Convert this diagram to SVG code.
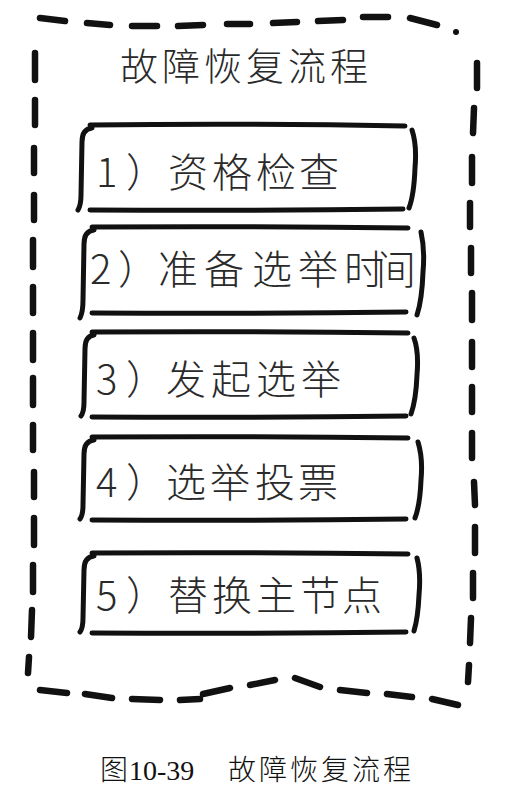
<svg xmlns="http://www.w3.org/2000/svg" width="520" height="798" viewBox="0 0 520 798">
<style>
.frame{fill:none;stroke:#111;stroke-width:6.5;stroke-linecap:round;stroke-linejoin:round}
.box{fill:none;stroke:#111;stroke-width:5;stroke-linecap:round;stroke-linejoin:round}
.hand{font-family:"Noto Sans CJK SC","Noto Sans",sans-serif;font-weight:300;fill:#2a2a2a}
.lbl{font-size:40px}
.title{font-size:38px}
.cap{font-family:"Liberation Serif","Noto Sans CJK SC",serif;font-size:28px;fill:#111}
.capcn{font-family:"Noto Sans CJK SC",sans-serif;font-weight:300;font-size:28px;fill:#111}
</style>
<rect width="520" height="798" fill="#fff"/>
<g id="frame">
<path class="frame" d="M40 18 L65 21 M87 23 L110 25 M132 26 L157 26 M178 26 L203 25 M227 24 L250 24 M273 23 L297 22 M318 21 L343 20 M363 17 L388 17 M410 18 L437 25"/>
<circle cx="456" cy="32" r="3" fill="#111"/>
<path class="frame" d="M35 53 L35 80 M35 100 L35 125 M34 148 L34 173 M34 195 L34 220 M33 240 L33 267 M33 287 L33 313 M33 333 L33 360 M33 378 L33 405 M33 425 L33 450 M34 472 L34 497 M34 518 L34 545 M33 565 L33 592 M32 610 L31 637 M29 657 L28 673"/>
<path class="frame" d="M477 63 L477 88 M474 108 L473 133 M472 157 L472 183 M470 203 L470 227 M471 248 L471 273 M472 293 L472 320 M472 342 L472 367 M472 387 L472 412 M472 433 L472 458 M474 482 L475 505 M475 527 L475 553 M473 573 L473 598 M471 618 L470 643 M469 665 L468 682"/>
<path class="frame" d="M40 690 L67 693 M85 694 L112 698 M132 699 L160 700 M180 700 L200 699 M203 694 L230 688 M250 685 L275 680 M295 678 L320 687 M340 690 L367 693 M387 694 L412 697 M432 699 L458 705"/>
<text class="hand title" x="120 162 204 246 288 330" y="80">故障恢复流程</text>
</g>
<g id="step1">
<path class="box" d="M90 125 Q250 123 405 126 M90 210 Q250 211 403 209 M92 128 Q82 129 82 142 L81 195 Q81 205 78 210 M412 130 Q417 145 415 168 Q414 195 409 208"/>
<text class="hand lbl" x="96 126 168 212 256 299" y="187">1）资格检查</text>
</g>
<g id="step2">
<path class="box" d="M92 227 Q250 226 408 228 M92 313 Q250 314 406 312 M94 230 Q84 231 84 244 L83 300 Q83 312 80 318 M421 232 Q425 250 423 272 Q422 300 417 315"/>
<text class="hand lbl" x="90 118 158 204 252 298 344 376" y="284">2）准备选举时间</text>
</g>
<g id="step3">
<path class="box" d="M92 332 Q250 331 408 333 M92 417 Q250 418 406 416 M94 335 Q85 336 85 349 L84 402 Q84 412 81 416 M414 338 Q419 352 417 375 Q416 400 411 414"/>
<text class="hand lbl" x="96 126 166 211 256 301" y="394">3）发起选举</text>
</g>
<g id="step4">
<path class="box" d="M92 437 Q250 436 408 438 M92 520 Q250 521 406 519 M94 440 Q84 441 84 454 L83 505 Q83 515 80 519 M418 442 Q423 458 421 480 Q420 505 415 518"/>
<text class="hand lbl" x="96 126 166 210 255 298" y="497">4）选举投票</text>
</g>
<g id="step5">
<path class="box" d="M92 553 Q250 552 408 554 M92 633 Q250 634 406 632 M94 556 Q84 557 84 570 L83 618 Q83 628 80 632 M417 558 Q421 573 419 595 Q418 618 414 631"/>
<text class="hand lbl" x="96 126 168 212 256 300 342" y="610">5）替换主节点</text>
</g>
<g id="caption">
<text class="capcn" x="100" y="780">图</text>
<text class="cap" x="129" y="780">10-39</text>
<text class="capcn" x="228 259 290 321 352 383" y="780">故障恢复流程</text>
</g>
</svg>
